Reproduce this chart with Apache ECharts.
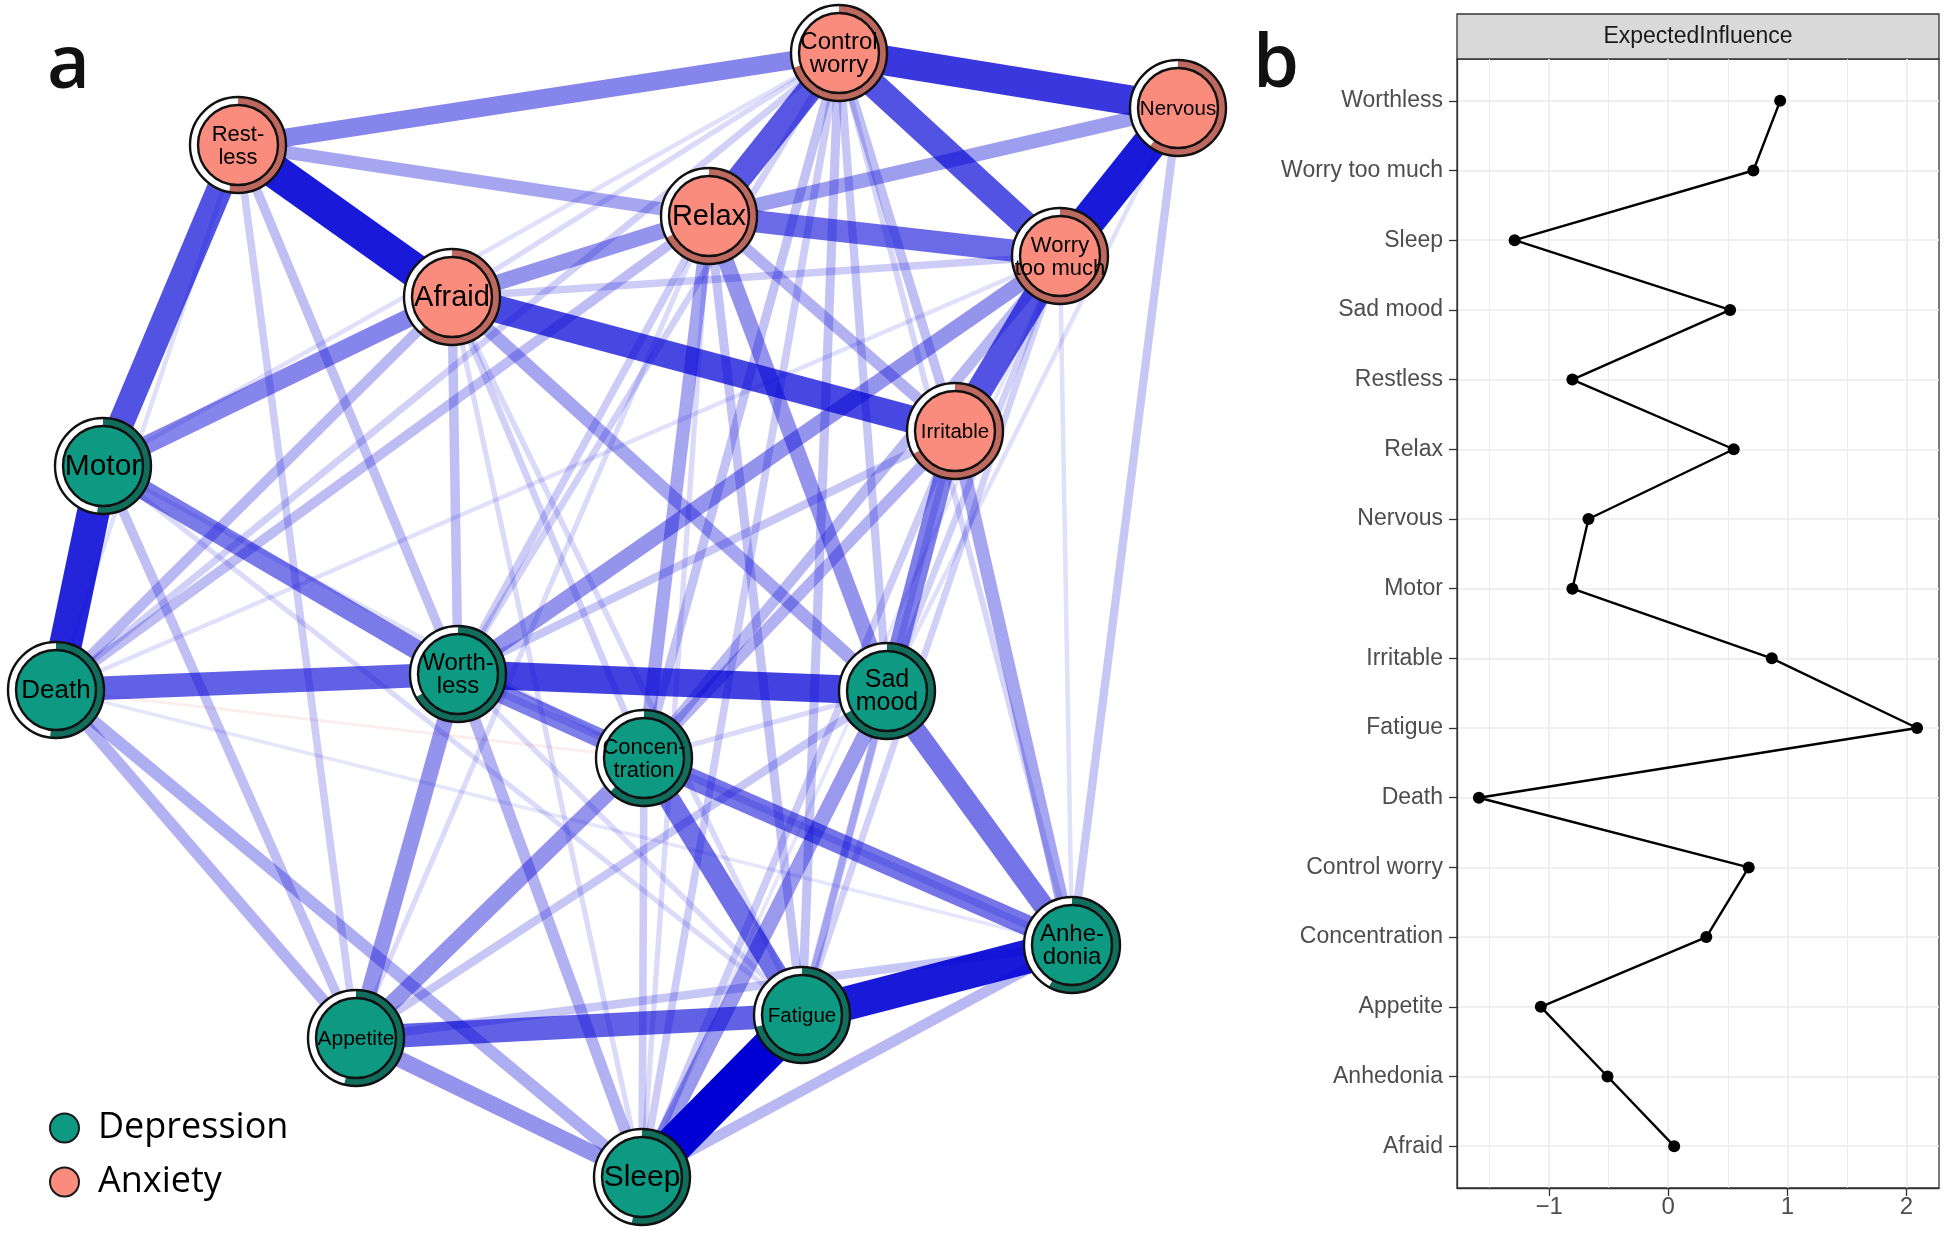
<!DOCTYPE html>
<html>
<head>
<meta charset="UTF-8">
<title>Network and expected influence</title>
<script src="https://cdn.jsdelivr.net/npm/echarts@6.0.0/dist/echarts.min.js"></script>
<style>
  html, body { margin:0; padding:0; background:#fff; }
  #main { width:1946px; height:1233px; }
</style>
</head>
<body>
<div id="main"></div>
<script>
// ---------- panel a : network ----------
var nodeIds    = ['CW','NV','RS','RX','WT','AF','IR','MO','DE','WL','SM','CO','AN','FA','AP','SL'];
var nodeLabels = ['Control\nworry','Nervous','Rest-\nless','Relax','Worry\ntoo much','Afraid','Irritable','Motor',
                  'Death','Worth-\nless','Sad\nmood','Concen-\ntration','Anhe-\ndonia','Fatigue','Appetite','Sleep'];
var nodeGroup  = [1,1,1,1,1,1,1,0,0,0,0,0,0,0,0,0];   // 0 = Depression, 1 = Anxiety
var layoutX    = [839,1178,238,709,1060,452,955,103,56,458,887,644,1072,802,356,642];
var layoutY    = [53,108,145,216,256,297,431,466,690,674,691,758,945,1015,1038,1177];
var predictability = [0.70,0.60,0.53,0.675,0.72,0.62,0.67,0.52,0.52,0.67,0.67,0.625,0.58,0.71,0.54,0.535];
var labelSize  = [24,20.5,22,29,22,29,20.5,30,26,24,25,22,24,20.5,21,30];

// edge list: from, to, weight (relative to strongest edge)
var edges = [
  ['FA','SL',1.00],['RS','AF',0.90],['FA','AN',0.90],['NV','WT',0.90],['MO','DE',0.86],
  ['CW','NV',0.78],['WL','SM',0.74],['AF','IR',0.72],['RS','MO',0.68],['CW','WT',0.68],
  ['WT','IR',0.68],['CW','RX',0.66],['DE','WL',0.62],['AP','FA',0.62],['RX','WT',0.58],
  ['CO','FA',0.56],['CO','AN',0.54],['SM','AN',0.54],['MO','WL',0.52],['WL','CO',0.50],
  ['IR','SM',0.50],['RS','CW',0.48],['AF','MO',0.48],['AF','RX',0.42],['WT','WL',0.42],
  ['RX','SM',0.42],['WL','AP',0.42],['CO','AP',0.42],['AP','SL',0.42],['SM','SL',0.40],
  ['NV','RX',0.38],['RS','RX',0.35],['AF','SM',0.35],['IR','AN',0.35],['RX','CO',0.35],
  ['DE','SL',0.32],['WL','SL',0.30],['DE','AP',0.30],['IR','CO',0.30],['RX','IR',0.30],
  ['AN','SL',0.28],['DE','AF',0.28],['DE','RX',0.26],['WT','CO',0.28],['MO','AP',0.25],
  ['RS','WL',0.25],['AF','WL',0.25],['CW','IR',0.25],['CW','CO',0.24],['FA','CW',0.24],
  ['FA','RX',0.24],['IR','WL',0.22],['AP','AN',0.22],['AP','SM',0.22],['NV','AN',0.22],
  ['SM','FA',0.22],['CW','SM',0.22],['RX','WL',0.20],['RS','AP',0.20],['AF','WT',0.20],
  ['CW','SL',0.20],['CO','SL',0.20],['IR','SL',0.20],['WL','AN',0.18],['CW','DE',0.18],
  ['CW','WL',0.18],['CW','AN',0.16],['IR','FA',0.18],['WT','FA',0.18],['WT','SM',0.18],
  ['AF','CO',0.18],['AF','FA',0.15],['AF','SL',0.14],['RX','SL',0.14],['RX','AP',0.14],
  ['CW','AF',0.14],['CW','MO',0.12],['DE','WT',0.12],['MO','FA',0.14],['MO','CO',0.12],
  ['WL','FA',0.14],['CO','SM',0.14],['RS','DE',0.12],['NV','SM',0.12],['WT','AN',0.12],
  ['WT','SL',0.10],['DE','AN',0.10],['DE','CO',-0.08]
];

// ---------- panel b : expected influence ----------
var eiCats   = ['Worthless','Worry too much','Sleep','Sad mood','Restless','Relax','Nervous','Motor',
                'Irritable','Fatigue','Death','Control worry','Concentration','Appetite','Anhedonia','Afraid'];
var eiValues = [0.94,0.715,-1.29,0.52,-0.805,0.55,-0.67,-0.805,0.87,2.09,-1.59,0.676,0.32,-1.07,-0.51,0.05];
var eiTicks  = [-1,0,1,2];

var depFill = '#0E9A82', depPie = '#126E5C';
var anxFill = '#FA8C7E', anxPie = '#BE695F';
var maxEdgeWidth = 38;
var sansFont = "'Liberation Sans', Arial, sans-serif";

var chart = echarts.init(document.getElementById('main'));

var graphNodes = nodeIds.map(function (id, i) {
  return { name: id, value: [layoutX[i], layoutY[i]] };
});

var graphLinks = edges.slice().sort(function (a, b) {
  return Math.abs(a[2]) - Math.abs(b[2]);
}).map(function (e) {
  var a = Math.abs(e[2]);
  var col = e[2] > 0 ? 'rgba(0,0,213,' + a + ')' : 'rgba(205,40,30,' + a + ')';
  return { source: e[0], target: e[1], lineStyle: { width: Math.max(2.5, a * maxEdgeWidth), color: col } };
});

function nodeData(group) {
  var out = [];
  nodeIds.forEach(function (id, i) {
    if (nodeGroup[i] === group) out.push([layoutX[i], layoutY[i], predictability[i], i]);
  });
  return out;
}

function renderNode(params, api) {
  var idx = api.value(3);
  var c = api.coord([api.value(0), api.value(1)]);
  var anx = nodeGroup[idx] === 1;
  var R = 48, r = 40;
  var p = api.value(2);
  return {
    type: 'group',
    children: [
      { type: 'circle', shape: { cx: c[0], cy: c[1], r: R }, style: { fill: '#fff' } },
      { type: 'sector', shape: { cx: c[0], cy: c[1], r0: r, r: R,
          startAngle: -Math.PI / 2, endAngle: -Math.PI / 2 + p * 2 * Math.PI, clockwise: true },
        style: { fill: anx ? anxPie : depPie } },
      { type: 'circle', shape: { cx: c[0], cy: c[1], r: R }, style: { fill: null, stroke: '#111', lineWidth: 2.4 } },
      { type: 'circle', shape: { cx: c[0], cy: c[1], r: r }, style: { fill: anx ? anxFill : depFill, stroke: '#111', lineWidth: 2.4 } },
      { type: 'text', x: c[0], y: c[1] + 1,
        style: { text: nodeLabels[idx], x: 0, y: 0, align: 'center', verticalAlign: 'middle',
                 fontSize: labelSize[idx], lineHeight: 23, fontFamily: sansFont, fill: '#000' } }
    ]
  };
}

function fmtTick(v) {
  if (Math.abs(v - Math.round(v)) > 1e-6) return '';
  v = Math.round(v);
  return v < 0 ? '\u2212' + (-v) : String(v);
}

var option = {
  animation: false,
  backgroundColor: '#ffffff',
  grid: [
    { left: 0, top: 0, width: 1946, height: 1233, show: false },
    { left: 1457, top: 59, width: 482, height: 1129, show: true, borderColor: '#333333', borderWidth: 1.3, backgroundColor: 'transparent' }
  ],
  xAxis: [
    { gridIndex: 0, type: 'value', min: 0, max: 1946, show: false },
    { gridIndex: 1, type: 'value', min: -1.774, max: 2.274, splitNumber: 4, minInterval: 1, maxInterval: 1,
      axisLine: { show: true, onZero: false, lineStyle: { color: '#333333', width: 1.3 } },
      axisTick: { show: true, length: 8, customValues: eiTicks, lineStyle: { color: '#333333', width: 1.3 } },
      axisLabel: { customValues: eiTicks, formatter: fmtTick, color: '#4D4D4D', fontSize: 24, margin: 7, fontFamily: sansFont },
      splitLine: { show: true, lineStyle: { color: '#EBEBEB', width: 1.6 } },
      minorTick: { show: false, splitNumber: 2 },
      minorSplitLine: { show: true, lineStyle: { color: '#EBEBEB', width: 0.9 } } }
  ],
  yAxis: [
    { gridIndex: 0, type: 'value', min: 0, max: 1233, inverse: true, show: false },
    { gridIndex: 1, type: 'value', min: 0.4, max: 16.6, inverse: true, minInterval: 1, maxInterval: 1,
      axisLine: { show: true, onZero: false, lineStyle: { color: '#333333', width: 1.3 } },
      axisTick: { show: true, length: 8, customValues: eiCats.map(function (c, i) { return i + 1; }),
                  lineStyle: { color: '#333333', width: 1.3 } },
      axisLabel: { customValues: eiCats.map(function (c, i) { return i + 1; }),
                   formatter: function (v) { return eiCats[Math.round(v) - 1] || ''; },
                   color: '#4D4D4D', fontSize: 23, margin: 14, fontFamily: sansFont },
      splitLine: { show: true, lineStyle: { color: '#EBEBEB', width: 1.6 } } }
  ],
  legend: {
    data: [
      { name: 'Depression', icon: 'circle', itemStyle: { color: depFill, borderColor: '#1a1a1a', borderWidth: 2 } },
      { name: 'Anxiety', icon: 'circle', itemStyle: { color: anxFill, borderColor: '#1a1a1a', borderWidth: 2 } }
    ],
    orient: 'vertical', left: 49, top: 1110, padding: 0,
    itemWidth: 29, itemHeight: 29, itemGap: 18, selectedMode: false,
    textStyle: { fontSize: 36, fontFamily: "'Open Sans', sans-serif", color: '#000', padding: [0, 0, 0, 14] }
  },
  graphic: [
    { type: 'text', left: 47, top: 30, style: { text: 'a', font: "600 74px 'Open Sans', sans-serif", fill: '#111' } },
    { type: 'text', left: 1253, top: 29, style: { text: 'b', font: "600 74px 'Open Sans', sans-serif", fill: '#111' } },
    { type: 'rect', shape: { x: 1457, y: 14, width: 482, height: 45 },
      style: { fill: '#D9D9D9', stroke: '#333333', lineWidth: 1.3 } },
    { type: 'text', x: 1698, y: 37,
      style: { text: 'ExpectedInfluence', align: 'center', verticalAlign: 'middle', fontSize: 23, fontFamily: sansFont, fill: '#1A1A1A' } }
  ],
  series: [
    { type: 'graph', coordinateSystem: 'cartesian2d', xAxisIndex: 0, yAxisIndex: 0,
      layout: 'none', silent: true, symbolSize: 2, itemStyle: { opacity: 0 },
      lineStyle: { opacity: 1, curveness: 0 }, label: { show: false },
      data: graphNodes, links: graphLinks, z: 1 },
    { name: 'Depression', type: 'custom', coordinateSystem: 'cartesian2d', xAxisIndex: 0, yAxisIndex: 0,
      itemStyle: { color: depFill }, data: nodeData(0), renderItem: renderNode, silent: true, z: 5 },
    { name: 'Anxiety', type: 'custom', coordinateSystem: 'cartesian2d', xAxisIndex: 0, yAxisIndex: 0,
      itemStyle: { color: anxFill }, data: nodeData(1), renderItem: renderNode, silent: true, z: 5 },
    { type: 'line', xAxisIndex: 1, yAxisIndex: 1,
      data: eiValues.map(function (v, i) { return [v, i + 1]; }),
      symbol: 'circle', symbolSize: 12, lineStyle: { color: '#000', width: 2.4 },
      itemStyle: { color: '#000' }, z: 6 }
  ]
};

chart.setOption(option);
</script>
</body>
</html>
